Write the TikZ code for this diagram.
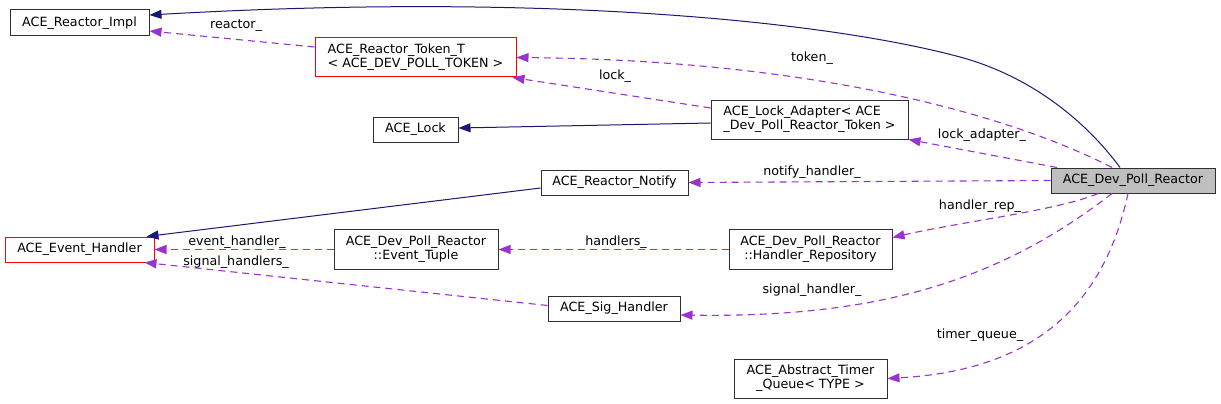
\documentclass[tikz,border=0pt]{standalone}
\usepackage{fontspec}
\setmainfont{DejaVu Sans}
\usetikzlibrary{arrows.meta}
\definecolor{navyedge}{HTML}{191970}
\definecolor{purpedge}{HTML}{9A32CD}
\definecolor{boxgray}{HTML}{BFBFBF}
\definecolor{boxline}{HTML}{303030}
\begin{document}
\begin{tikzpicture}[x=1pt,y=-1pt,
  every node/.style={font=\fontsize{12.7}{14}\selectfont},
  cls/.style={draw=boxline, line width=1pt, fill=white, inner sep=0pt, align=center},
  redcls/.style={cls, draw=red},
  maincls/.style={cls, fill=boxgray},
  inherit/.style={draw=navyedge, line width=1pt, -{Triangle[length=12pt,width=9pt]}},
  member/.style={draw=purpedge, line width=1.1pt, dash pattern=on 7pt off 5pt, -{Triangle[length=12pt,width=9pt]}},
  lbl/.style={inner sep=0pt}
]
\useasboundingbox[fill=white] (0,0) rectangle (1221,404);

% nodes
\node[cls, minimum width=139pt, minimum height=26pt] (impl) at (79.5,23) {ACE\_Reactor\_Impl};
\node[redcls, minimum width=201pt, minimum height=39pt, align=left] (token) at (415.5,57.5) {ACE\_Reactor\_Token\_T\\< ACE\_DEV\_POLL\_TOKEN >};
\node[cls, minimum width=85pt, minimum height=25pt] (lock) at (415.5,129.5) {ACE\_Lock};
\node[cls, minimum width=197pt, minimum height=39pt, align=left] (adapter) at (809.5,119.5) {ACE\_Lock\_Adapter< ACE\\\_Dev\_Poll\_Reactor\_Token >};
\node[cls, minimum width=147pt, minimum height=25pt] (notify) at (614.5,182.5) {ACE\_Reactor\_Notify};
\node[maincls, minimum width=164pt, minimum height=25pt] (devpoll) at (1133,180.5) {ACE\_Dev\_Poll\_Reactor};
\node[redcls, minimum width=149pt, minimum height=25pt] (evh) at (79.5,249.5) {ACE\_Event\_Handler};
\node[cls, minimum width=164pt, minimum height=40pt] (tuple) at (416,249.5) {ACE\_Dev\_Poll\_Reactor\\::Event\_Tuple};
\node[cls, minimum width=163pt, minimum height=40pt] (repo) at (810.5,249.5) {ACE\_Dev\_Poll\_Reactor\\::Handler\_Repository};
\node[cls, minimum width=132pt, minimum height=25pt] (sig) at (614,308.5) {ACE\_Sig\_Handler};
\node[cls, minimum width=153pt, minimum height=39pt] (timer) at (810.5,378.5) {ACE\_Abstract\_Timer\\\_Queue< TYPE >};

% inheritance edges
\draw[inherit] ([xshift=-13pt]devpoll.north) .. controls (1085,120) and (1030,76) .. (960,57)
   .. controls (830,22) and (550,-8) .. ([yshift=8pt]impl.east);
\draw[inherit] ([yshift=-3.5pt]adapter.west) -- ([yshift=1.5pt]lock.east);
\draw[inherit] ([yshift=-5.5pt]notify.west) -- ([xshift=-8pt]evh.north east);

% member edges
\draw[member] ([yshift=10.5pt]token.west) -- ([yshift=-8pt]impl.east);
\draw[member] ([xshift=-21pt]devpoll.north) .. controls (1000,110) and (800,60) .. (token.east);
\draw[member] ([yshift=11.5pt]adapter.west) -- ([xshift=-4pt]token.south east);
\draw[member] ([xshift=-76pt]devpoll.north) -- (adapter.south east);
\draw[member] (devpoll.west) -- (notify.east);
\draw[member] ([xshift=-35pt]devpoll.south) .. controls (1060,210) and (960,222) .. ([yshift=12pt]repo.east);
\draw[member] (repo.west) -- (tuple.east);
\draw[member] (tuple.west) -- (evh.east);
\draw[member] ([yshift=3pt]sig.west) -- ([xshift=-10pt]evh.south east);
\draw[member] ([xshift=-21pt]devpoll.south) .. controls (1000,280) and (880,318) .. ([yshift=-6.5pt]sig.east);
\draw[member] ([xshift=-5pt]devpoll.south) .. controls (1105,300) and (1040,370) .. (timer.east);

% labels
\node[lbl] (l1) at (236,26) {reactor\_};
\node[lbl] (l2) at (812,58) {token\_};
\node[lbl] (l3) at (615,76) {lock\_};
\node[lbl] (l4) at (982,135) {lock\_adapter\_};
\node[lbl] (l5) at (812,172) {notify\_handler\_};
\node[lbl] (l6) at (980,206) {handler\_rep\_};
\node[lbl] (l7) at (616,242) {handlers\_};
\node[lbl] (l8) at (237,242) {event\_handler\_};
\node[lbl] (l9) at (236,262) {signal\_handlers\_};
\node[lbl] (l10) at (812,290) {signal\_handler\_};
\node[lbl] (l11) at (980,335) {timer\_queue\_};
\end{tikzpicture}
\end{document}
